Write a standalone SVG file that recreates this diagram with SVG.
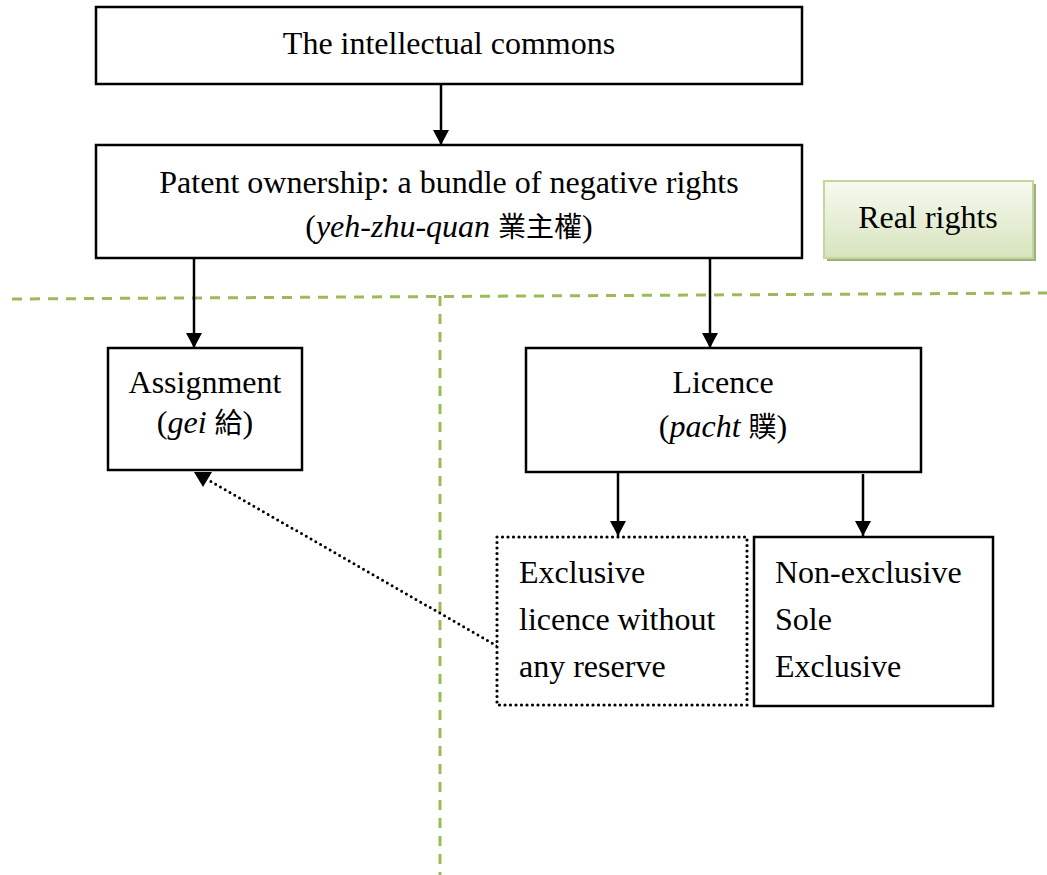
<svg xmlns="http://www.w3.org/2000/svg" width="1047" height="875" viewBox="0 0 1047 875">
<defs>
<linearGradient id="gr" x1="0" y1="0" x2="0" y2="1">
<stop offset="0" stop-color="#f7faf1"/>
<stop offset="1" stop-color="#d7e4bd"/>
</linearGradient>
<marker id="ah" markerWidth="16" markerHeight="16" viewBox="0 0 16 16" refX="15" refY="8" orient="auto" markerUnits="userSpaceOnUse">
<path d="M0,0 L15,8 L0,16 Z" fill="#000"/>
</marker>
<style>
.t{font-family:"Liberation Serif","Times New Roman","Noto Sans CJK TC",serif;font-size:32px;fill:#000}
.c{text-anchor:middle}
.box{fill:#fff;stroke:#000;stroke-width:2.5}
.dot{fill:#fff;stroke:#000;stroke-width:3.2;stroke-dasharray:0 5.5;stroke-linecap:round}
.arr{stroke:#000;stroke-width:2.5;fill:none;marker-end:url(#ah)}
.gd{stroke:#9bbb59;stroke-width:3;stroke-dasharray:10 8;fill:none}
.cjk{font-family:"Noto Sans CJK TC","Noto Sans CJK SC",serif;font-size:28px}
</style>
</defs>
<g id="dividers">
<line class="gd" x1="12" y1="299" x2="1047" y2="293"/>
<line class="gd" x1="440" y1="296" x2="440" y2="875"/>
</g>
<g id="connectors">
<line class="arr" x1="441" y1="84" x2="441" y2="145"/>
<line class="arr" x1="194" y1="258" x2="194" y2="348"/>
<line class="arr" x1="710" y1="258" x2="710" y2="348"/>
<line class="arr" x1="618" y1="472" x2="618" y2="536"/>
<line class="arr" x1="863" y1="474" x2="863" y2="536"/>
<line x1="497" y1="646" x2="210" y2="481" stroke="#000" stroke-width="3" stroke-dasharray="0 5.5" stroke-linecap="round"/>
<polygon points="194,472 212,472 203,487" fill="#000"/>
</g>
<g id="commons">
<rect class="box" x="96" y="7" width="706" height="77"/>
<text class="t c" x="449" y="54">The intellectual commons</text>
</g>
<g id="patent">
<rect class="box" x="96" y="145" width="706" height="113"/>
<text class="t c" x="449" y="193">Patent ownership: a bundle of negative rights</text>
<text class="t c" x="449" y="237">(<tspan font-style="italic">yeh-zhu-quan</tspan> <tspan class="cjk">業主權</tspan>)</text>
</g>
<g id="realrights">
<rect x="827" y="184" width="209" height="77" fill="#9fae80"/>
<rect x="824" y="181" width="209" height="77" fill="url(#gr)" stroke="#c3d69b" stroke-width="2"/>
<text class="t c" x="928" y="228">Real rights</text>
</g>
<g id="assignment">
<rect class="box" x="108" y="348" width="194" height="122"/>
<text class="t c" x="205" y="393">Assignment</text>
<text class="t c" x="205" y="433">(<tspan font-style="italic">gei</tspan> <tspan class="cjk">給</tspan>)</text>
</g>
<g id="licence">
<rect class="box" x="526" y="348" width="395" height="124"/>
<text class="t c" x="723" y="393">Licence</text>
<text class="t c" x="723" y="437">(<tspan font-style="italic">pacht</tspan> <tspan class="cjk">贌</tspan>)</text>
</g>
<g id="exclusive-noreserve">
<rect class="dot" x="497" y="537" width="250" height="168"/>
<text class="t" x="519" y="583">Exclusive</text>
<text class="t" x="519" y="630">licence without</text>
<text class="t" x="519" y="677">any reserve</text>
</g>
<g id="licence-types">
<rect class="box" x="754" y="537" width="239" height="169"/>
<text class="t" x="775" y="583">Non-exclusive</text>
<text class="t" x="775" y="630">Sole</text>
<text class="t" x="775" y="677">Exclusive</text>
</g>
</svg>
